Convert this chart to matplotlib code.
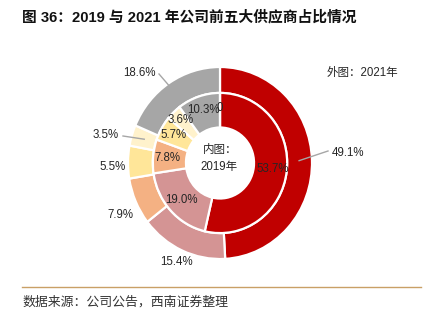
import matplotlib
matplotlib.use("Agg")
import matplotlib.pyplot as plt
import numpy as np

# ---- data ----
categories = ["供应商1", "供应商2", "供应商3", "供应商4", "供应商5", "其他"]
outer_2021 = [49.1, 15.4, 7.9, 5.5, 3.5, 18.6]
inner_2019 = [53.7, 19.0, 7.8, 5.7, 3.6, 10.3, 0.0]
outer_labels = ["49.1%", "15.4%", "7.9%", "5.5%", "3.5%", "18.6%"]
inner_labels = ["53.7%", "19.0%", "7.8%", "5.7%", "3.6%", "10.3%", "0"]

colors = ["#C00000", "#D49494", "#F4B183", "#FFE699", "#FFF2CC", "#A6A6A6", "#FFFFFF"]

W, H = 424, 326
FONT = ["Liberation Sans", "Noto Sans CJK SC"]
TXT = "#262626"

fig = plt.figure(figsize=(W / 100, H / 100), dpi=100)

def fx(x):
    return x / W

def fy(y):
    return 1 - y / H

# title
fig.text(fx(22), fy(17), "图 36：2019 与 2021 年公司前五大供应商占比情况",
         family=FONT, weight="bold", fontsize=10.6, color="#111111",
         ha="left", va="center")

# pie axes (slightly taller than wide as in reference)
cx, cy = 220, 163
rx, ry = 92, 96
lim = 1.2
aw, ah = 2 * lim * rx, 2 * lim * ry
ax = fig.add_axes([fx(cx - aw / 2), (H - cy - ah / 2) / H, aw / W, ah / H])

wp = dict(edgecolor="white", linewidth=1.6)
ax.pie(outer_2021, radius=1.0, startangle=90, counterclock=False,
       colors=colors[:len(outer_2021)], wedgeprops=dict(width=0.27, **wp))
ax.pie(inner_2019, radius=0.73, startangle=90, counterclock=False,
       colors=colors[:len(inner_2019)], wedgeprops=dict(width=0.36, **wp))
ax.set_aspect("auto")
ax.set_xlim(-lim, lim)
ax.set_ylim(-lim, lim)
ax.axis("off")

# inner labels at mid-ring radius
tot = sum(inner_2019)
ang = 90.0
inner_r = [0.58, 0.57, 0.57, 0.58, 0.62, 0.58, 0.57]
for v, lab, r in zip(inner_2019, inner_labels, inner_r):
    span = v / tot * 360
    mid = np.deg2rad(ang - span / 2)
    if v == 0:
        mid = np.deg2rad(ang)
    ax.text(r * np.cos(mid), r * np.sin(mid), lab, family=FONT, fontsize=8.3,
            color=TXT, ha="center", va="center")
    ang -= span

# outer labels (pixel layout positions)
outer_pos = [(332, 153, "left"), (176, 262, "center"), (120, 215, "center"),
             (113, 167, "center"), (106, 135, "center"), (139, 73, "center")]
for lab, (px, py, ha) in zip(outer_labels, outer_pos):
    fig.text(fx(px), fy(py), lab, family=FONT, fontsize=8.3, color=TXT,
             ha=ha, va="center")

# leader lines for a few outer labels (start inside ring at wedge middle angle)
tot_o = sum(outer_2021)
starts = []
a = 90.0
for v in outer_2021:
    s = v / tot_o * 360
    starts.append(a - s / 2)
    a -= s
leader_ends = {0: (328, 151), 4: (123, 136), 5: (159, 74)}
for i, (ex, ey) in leader_ends.items():
    th = np.deg2rad(starts[i])
    r0 = 0.86
    sx = cx + r0 * rx * np.cos(th)
    sy = cy - r0 * ry * np.sin(th)
    fig.add_artist(plt.Line2D([fx(sx), fx(ex)], [fy(sy), fy(ey)],
                              color="#A6A6A6", linewidth=1.0))

# annotations
fig.text(fx(362), fy(73), "外图：2021年", family=FONT, fontsize=8.3,
         color=TXT, ha="center", va="center")
fig.text(fx(220), fy(150), "内图：", family=FONT, fontsize=8.3,
         color=TXT, ha="center", va="center")
fig.text(fx(219), fy(167), "2019年", family=FONT, fontsize=8.3,
         color=TXT, ha="center", va="center")

# bottom rule and source
fig.add_artist(plt.Line2D([fx(22), fx(421)], [fy(287), fy(287)],
                          color="#C9A066", linewidth=1.0))
fig.text(fx(22), fy(302), "数据来源：公司公告，西南证券整理",
         family=["Noto Sans CJK SC"], style="italic", fontsize=9.3,
         color="#333333", ha="left", va="center")

fig.savefig("out.png", dpi=100)
